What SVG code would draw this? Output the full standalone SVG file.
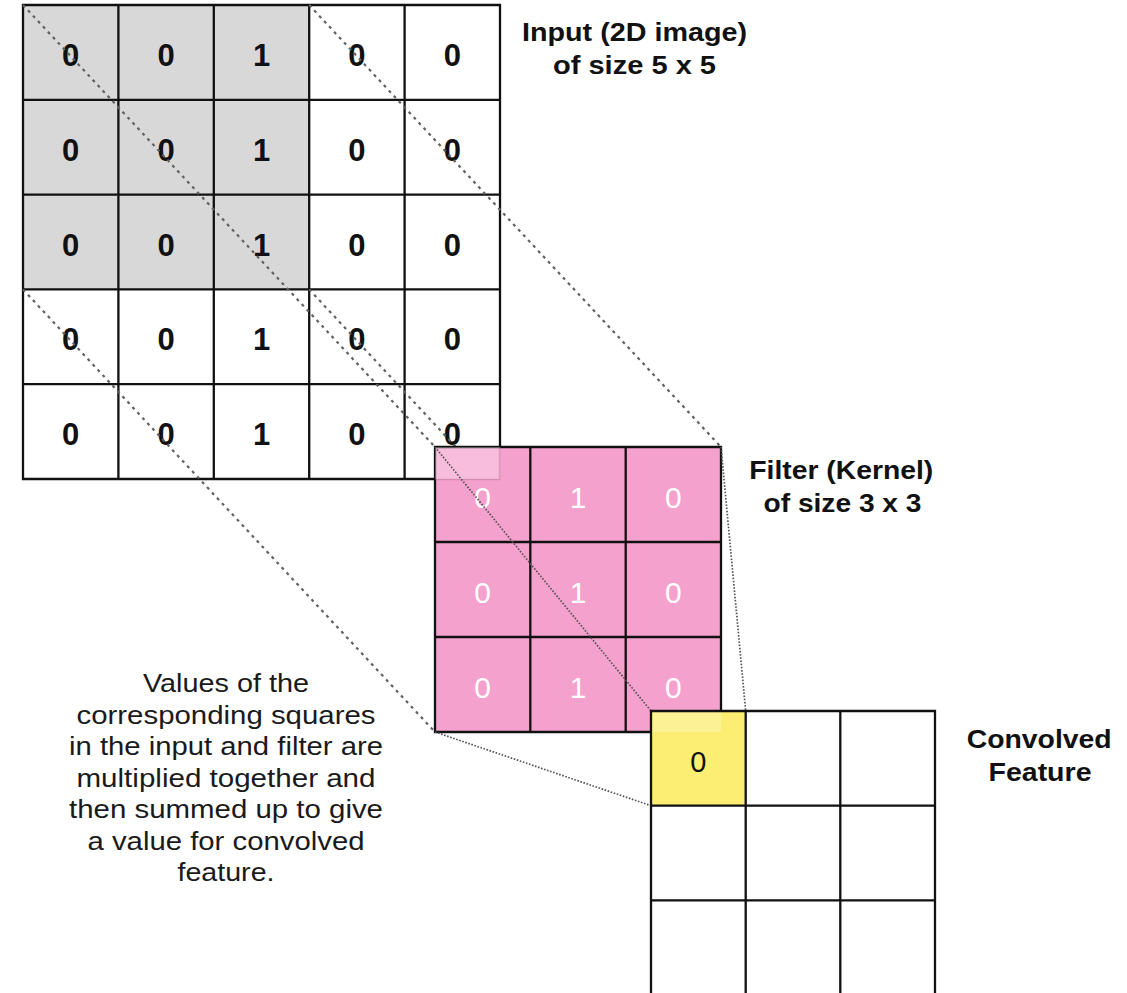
<svg xmlns="http://www.w3.org/2000/svg" width="1127" height="993" viewBox="0 0 1127 993">
<defs>
<style>
.bg{fill:#ffffff}
.grid{fill:none;stroke:#111;stroke-width:2.3}
.shade{fill:#d8d8d8}
.pink{fill:#f5a1cd}
.yellow{fill:#fbee72}
.din{font-family:"Liberation Sans",Arial,sans-serif;font-weight:bold;font-size:31px;fill:#111;text-anchor:middle}
.dfl{font-family:"Liberation Sans",Arial,sans-serif;font-size:30px;fill:#ffffff;text-anchor:middle}
.dcv{font-family:"Liberation Sans",Arial,sans-serif;font-size:29px;fill:#111;text-anchor:middle}
.lbl{font-family:"Liberation Sans",Arial,sans-serif;font-weight:bold;font-size:25.5px;fill:#111;text-anchor:middle}
.para{font-family:"Liberation Sans",Arial,sans-serif;font-size:25.5px;fill:#1a1a1a;text-anchor:middle}
.dash{fill:none;stroke:#626262;stroke-width:2.2;stroke-dasharray:3 4.3}
.dot{fill:none;stroke:#555;stroke-width:1.7;stroke-dasharray:1.6 1.6}
</style>
</defs>
<rect class="bg" x="0" y="0" width="1127" height="993"/>

<g id="input">
  <rect x="23" y="5" width="477" height="474" fill="#fff"/>
  <rect class="shade" x="23" y="5" width="286.2" height="284.4"/>
  <path class="grid" d="M23 5H500V479H23Z M118.4 5V479 M213.8 5V479 M309.2 5V479 M404.6 5V479 M23 99.8H500 M23 194.6H500 M23 289.4H500 M23 384.2H500"/>
  <g class="din">
    <text x="70.7" y="66">0</text><text x="166.1" y="66">0</text><text x="261.5" y="66">1</text><text x="356.9" y="66">0</text><text x="452.3" y="66">0</text>
    <text x="70.7" y="160.8">0</text><text x="166.1" y="160.8">0</text><text x="261.5" y="160.8">1</text><text x="356.9" y="160.8">0</text><text x="452.3" y="160.8">0</text>
    <text x="70.7" y="255.6">0</text><text x="166.1" y="255.6">0</text><text x="261.5" y="255.6">1</text><text x="356.9" y="255.6">0</text><text x="452.3" y="255.6">0</text>
    <text x="70.7" y="350.4">0</text><text x="166.1" y="350.4">0</text><text x="261.5" y="350.4">1</text><text x="356.9" y="350.4">0</text><text x="452.3" y="350.4">0</text>
    <text x="70.7" y="445.2">0</text><text x="166.1" y="445.2">0</text><text x="261.5" y="445.2">1</text><text x="356.9" y="445.2">0</text><text x="452.3" y="445.2">0</text>
  </g>
</g>

<g id="connectors-input-filter">
  <line class="dash" x1="23" y1="5" x2="435" y2="447"/>
  <line class="dash" x1="309.2" y1="5" x2="721" y2="447"/>
  <line class="dash" x1="23" y1="289.4" x2="435" y2="732"/>
  <line class="dash" x1="309.2" y1="289.4" x2="721" y2="732"/>
</g>

<g id="filter">
  <rect class="pink" x="435" y="447" width="286" height="285"/>
  <path class="grid" d="M435 447H721V732H435Z M530.3 447V732 M625.7 447V732 M435 542H721 M435 637H721" stroke="#1a0a12"/>
  <rect x="435" y="447" width="65" height="32" fill="#ffffff" fill-opacity="0.3"/>
  <path d="M499.5 447V479.5H435" fill="none" stroke="#a06080" stroke-opacity="0.35" stroke-width="1.5"/>
  <g class="dfl">
    <text x="482.7" y="507.5">0</text><text x="578" y="507.5">1</text><text x="673.3" y="507.5">0</text>
    <text x="482.7" y="602.5">0</text><text x="578" y="602.5">1</text><text x="673.3" y="602.5">0</text>
    <text x="482.7" y="697.5">0</text><text x="578" y="697.5">1</text><text x="673.3" y="697.5">0</text>
  </g>
</g>

<g id="connectors-filter-output">
  <line class="dot" x1="435" y1="447" x2="651" y2="711"/>
  <line class="dot" x1="721" y1="447" x2="745.7" y2="711"/>
  <line class="dot" x1="435" y1="732" x2="651" y2="805.7"/>
</g>

<g id="convolved">
  <rect class="yellow" x="651" y="711" width="94.7" height="94.7"/>
  <rect x="651" y="711" width="70" height="21" fill="#ffffff" fill-opacity="0.25"/>
  <path class="grid" d="M651 1000V711H935V1000 M745.7 711V1000 M840.3 711V1000 M651 805.7H935 M651 900.3H935"/>
  <text class="dcv" x="698.3" y="771.5">0</text>
</g>

<g id="label-input">
  <text class="lbl" x="634.5" y="40.5" textLength="225" lengthAdjust="spacingAndGlyphs">Input (2D image)</text>
  <text class="lbl" x="634.5" y="73.5" textLength="163" lengthAdjust="spacingAndGlyphs">of size 5 x 5</text>
</g>
<g id="label-filter">
  <text class="lbl" x="841.3" y="479" textLength="184" lengthAdjust="spacingAndGlyphs">Filter (Kernel)</text>
  <text class="lbl" x="842.5" y="511.5" textLength="158" lengthAdjust="spacingAndGlyphs">of size 3 x 3</text>
</g>
<g id="label-convolved">
  <text class="lbl" x="1039.2" y="747.5" textLength="145" lengthAdjust="spacingAndGlyphs">Convolved</text>
  <text class="lbl" x="1040" y="780.5" textLength="103" lengthAdjust="spacingAndGlyphs">Feature</text>
</g>
<g id="description">
  <text class="para" x="226" y="692" textLength="166" lengthAdjust="spacingAndGlyphs">Values of the</text>
  <text class="para" x="226" y="723.5" textLength="299" lengthAdjust="spacingAndGlyphs">corresponding squares</text>
  <text class="para" x="226" y="755" textLength="314" lengthAdjust="spacingAndGlyphs">in the input and filter are</text>
  <text class="para" x="226" y="786.5" textLength="299" lengthAdjust="spacingAndGlyphs">multiplied together and</text>
  <text class="para" x="226" y="818" textLength="314" lengthAdjust="spacingAndGlyphs">then summed up to give</text>
  <text class="para" x="226" y="849.5" textLength="277" lengthAdjust="spacingAndGlyphs">a value for convolved</text>
  <text class="para" x="226" y="881" textLength="97" lengthAdjust="spacingAndGlyphs">feature.</text>
</g>
</svg>
